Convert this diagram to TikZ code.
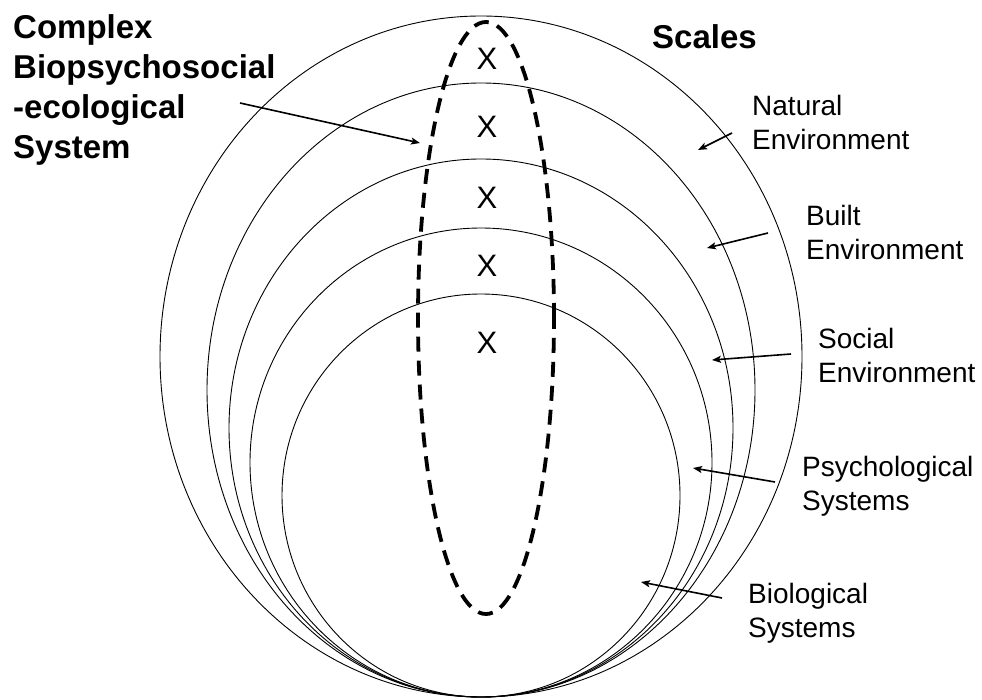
\documentclass[tikz,border=0pt]{standalone}
\usepackage{fontspec}
\setmainfont{Liberation Sans}
\usetikzlibrary{arrows.meta,positioning}
\tikzset{
  ring/.style={draw, line width=0.9pt},
  csys/.style={draw, line width=3.8pt, dash pattern=on 15pt off 9pt},
  pointer/.style={-{Stealth[length=9pt, width=7pt, inset=2pt]}, line width=1.6pt},
  scalelabel/.style={anchor=north west, inner sep=0pt, align=left, font=\fontsize{28}{34}\selectfont},
  headlabel/.style={anchor=north west, inner sep=0pt, align=left, font=\fontsize{33}{40}\selectfont\bfseries},
  xmark/.style={inner sep=0pt, font=\fontsize{31}{36}\selectfont}
}

\begin{document}
\begin{tikzpicture}[x=1pt, y=-1pt]
  \useasboundingbox (0,0) rectangle (982,700);
  % nested scales, all touching at the bottom
  \draw[ring] (481,356.5) ellipse [x radius=321pt, y radius=340.5pt];
  \draw[ring] (481,390) ellipse [x radius=274pt, y radius=307pt];
  \draw[ring] (481,428) ellipse [x radius=252pt, y radius=269pt];
  \draw[ring] (481,462.5) ellipse [x radius=231pt, y radius=234.5pt];
  \draw[ring] (481,495.5) ellipse [x radius=199pt, y radius=201.5pt];
  % the system cutting across the scales
  \draw[csys] (486,318) ellipse [x radius=68pt, y radius=296pt];
  \foreach \i/\yy in {1/59,2/127,3/198,4/266,5/343}
    \node[xmark] (x\i) at (487,\yy) {X};

  \node[headlabel] (sys) at (13,14) {Complex\\Biopsychosocial\\-ecological\\System};
  \node[headlabel] (scales) at (652,24) {Scales};
  \node[scalelabel] (nat) at (752,95) {Natural\\Environment};
  \node[scalelabel] (blt) at (806,205) {Built\\Environment};
  \node[scalelabel] (soc) at (818,328) {Social\\Environment};
  \node[scalelabel] (psy) at (802,456) {Psychological\\Systems};
  \node[scalelabel] (bio) at (748,583) {Biological\\Systems};

  % arrow ends
  \coordinate (sysA) at (240,103);  \coordinate (sysB) at (420,143);
  \coordinate (natA) at (732,133);  \coordinate (natB) at (698,150);
  \coordinate (bltA) at (768,233);  \coordinate (bltB) at (707,248);
  \coordinate (socA) at (791,354);  \coordinate (socB) at (712,360);
  \coordinate (psyA) at (775,482);  \coordinate (psyB) at (693,468);
  \coordinate (bioA) at (722,598);  \coordinate (bioB) at (641,582);
  \foreach \n in {sys,nat,blt,soc,psy,bio}
    \draw[pointer] (\n A) -- (\n B);
\end{tikzpicture}
\end{document}
